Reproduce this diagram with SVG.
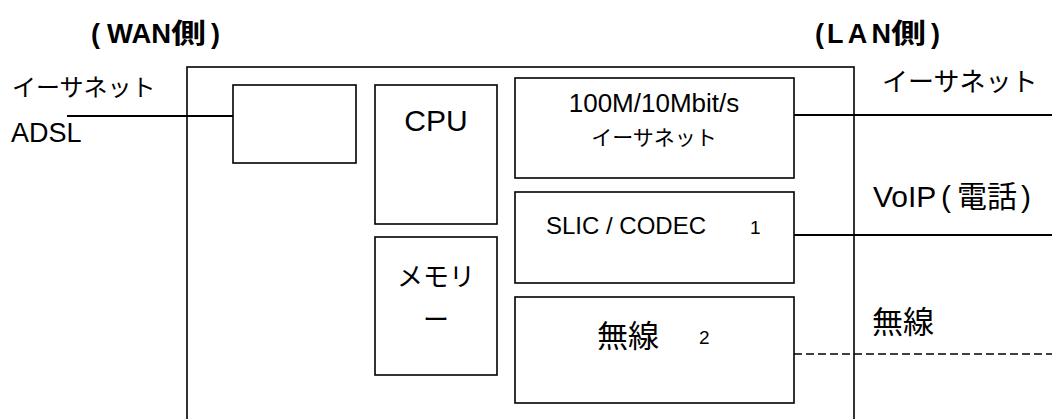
<svg xmlns="http://www.w3.org/2000/svg" width="1052" height="419" viewBox="0 0 1052 419">
<style>
.box{fill:#fff;stroke:#000;stroke-width:1.6}
.ln{stroke:#000;stroke-width:1.8;fill:none}
.dash{stroke:#000;stroke-width:1.6;stroke-dasharray:8 4;fill:none}
.t{font-family:"Liberation Sans","Noto Sans CJK JP",sans-serif;fill:#000}
.hd{font-family:"Liberation Sans","Noto Sans CJK JP",sans-serif;font-weight:bold;fill:#000;font-size:27px}
</style>
<rect width="1052" height="419" fill="#fff"/>
<g id="router">
<rect class="box" x="187" y="67" width="667" height="380"/>
</g>
<g id="headers">
<text class="hd" x="91" y="43">(</text>
<text class="hd" x="107" y="43" textLength="64" lengthAdjust="spacingAndGlyphs">WAN</text>
<text class="hd" transform="translate(171,43) scale(1.3,1)" font-size="29">側</text>
<text class="hd" x="211" y="43">)</text>
<text class="hd" x="815" y="43">(</text>
<text class="hd" x="827" y="43" textLength="64" lengthAdjust="spacing">LAN</text>
<text class="hd" transform="translate(891,43) scale(1.3,1)" font-size="29">側</text>
<text class="hd" x="931" y="43">)</text>
</g>
<g id="wan-labels">
<text class="t" x="12" y="96" font-size="24">イーサネット</text>
<text class="t" x="11" y="142" font-size="27">ADSL</text>
</g>
<g id="wan-port">
<rect class="box" x="233" y="85" width="123" height="78"/>
</g>
<g id="cpu">
<rect class="box" x="375" y="85" width="122" height="139"/>
<text class="t" x="436" y="131" font-size="30" text-anchor="middle">CPU</text>
</g>
<g id="memory">
<rect class="box" x="375" y="237" width="122" height="138"/>
<text class="t" x="436" y="286" font-size="26" text-anchor="middle">メモリ</text>
<text class="t" x="436" y="329" font-size="26" text-anchor="middle">ー</text>
</g>
<g id="ethernet">
<rect class="box" x="515" y="78" width="279" height="100"/>
<text class="t" x="654" y="112" font-size="26" text-anchor="middle">100M/10Mbit/s</text>
<text class="t" x="654" y="145" font-size="21" text-anchor="middle">イーサネット</text>
</g>
<g id="slic">
<rect class="box" x="515" y="192" width="279" height="91"/>
<text class="t" x="546" y="234" font-size="24">SLIC / CODEC</text>
<text class="t" x="750" y="234" font-size="19">1</text>
</g>
<g id="wireless">
<rect class="box" x="515" y="297" width="279" height="106"/>
<text class="t" x="597" y="347" font-size="31">無線</text>
<text class="t" x="699" y="344" font-size="19">2</text>
</g>
<g id="lan-labels">
<text class="t" x="882" y="91" font-size="26">イーサネット</text>
<text class="t" y="207" font-size="30"><tspan x="873">VoIP</tspan><tspan x="941">(</tspan><tspan x="957">電話</tspan><tspan x="1021">)</tspan></text>
<text class="t" x="872" y="333" font-size="31">無線</text>
</g>
<g id="connectors">
<line class="ln" x1="67" y1="116" x2="233" y2="116"/>
<line class="ln" x1="794" y1="115" x2="1052" y2="115"/>
<line class="ln" x1="794" y1="235" x2="1052" y2="235"/>
<line class="dash" x1="794" y1="354" x2="1052" y2="354"/>
</g>
</svg>
